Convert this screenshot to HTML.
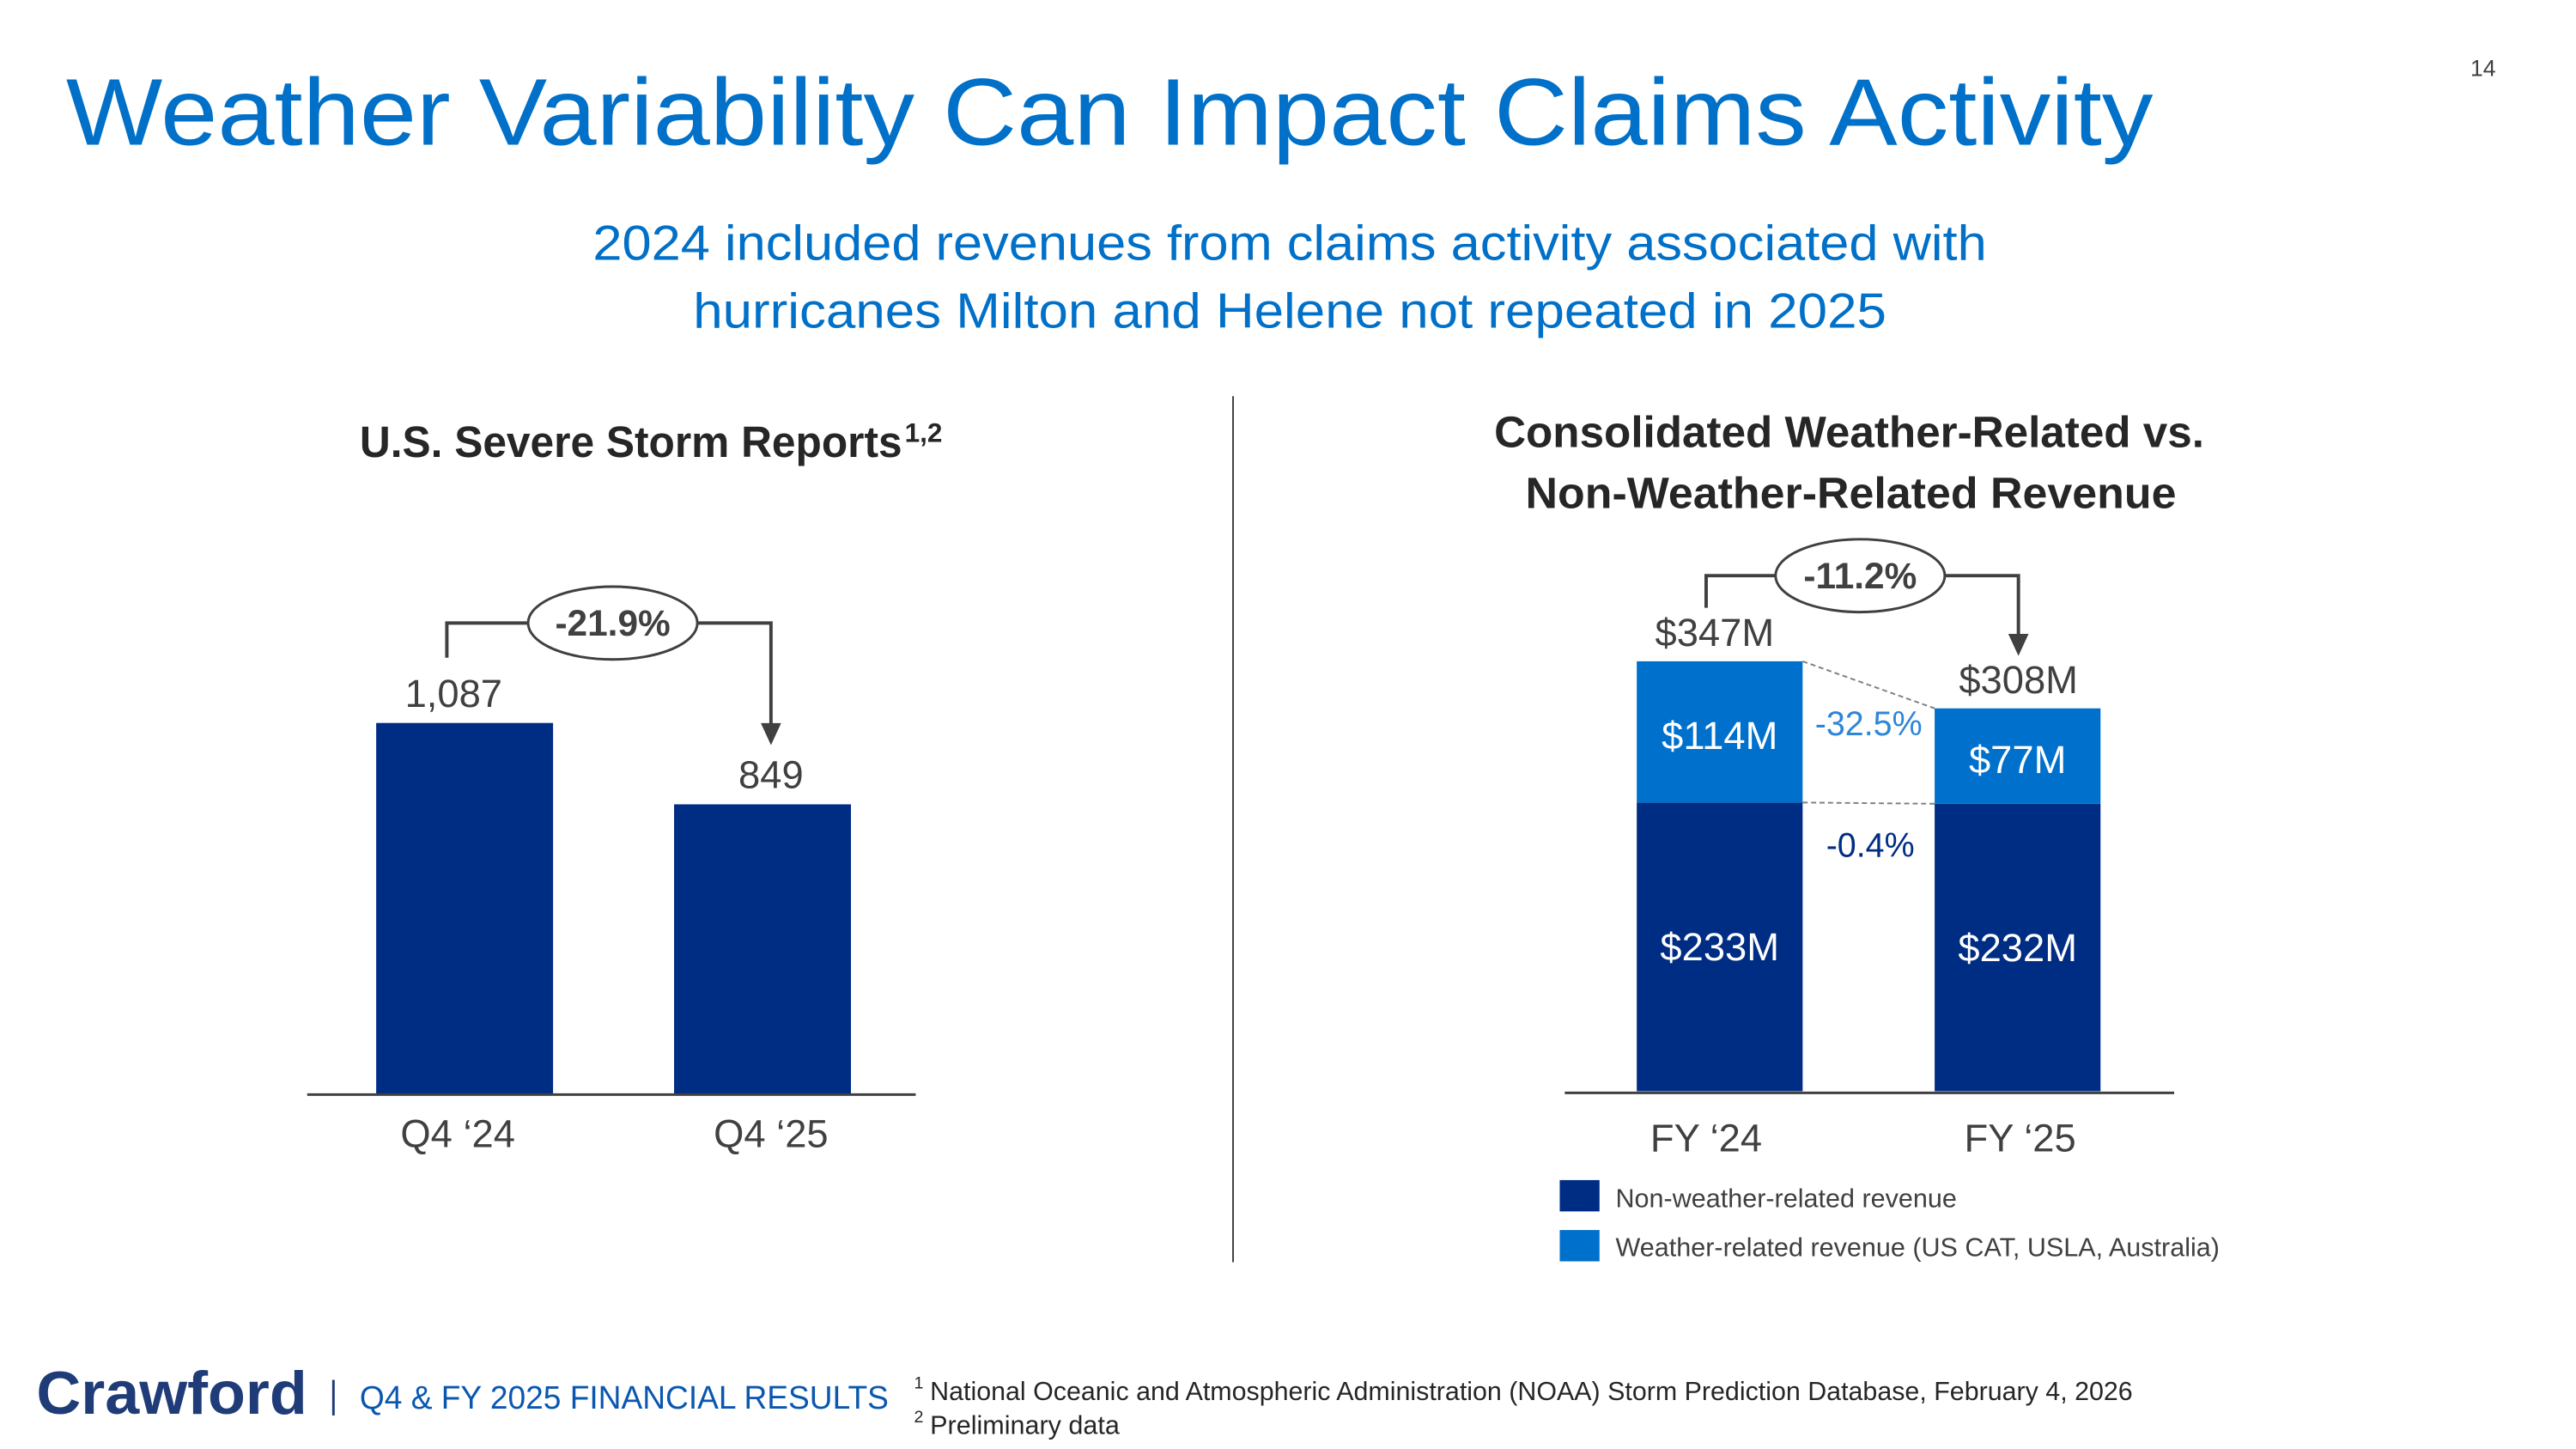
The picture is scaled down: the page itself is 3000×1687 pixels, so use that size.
<!DOCTYPE html>
<html><head><meta charset="utf-8"><style>
html,body{margin:0;padding:0;background:#fff}
svg{display:block;font-family:"Liberation Sans",sans-serif}
</style></head><body>
<svg id="slide" width="3000" height="1687" viewBox="0 0 3000 1687" xmlns="http://www.w3.org/2000/svg">
<g transform="scale(0.9856)">
<text x="2934" y="90" font-size="27" fill="#404040" text-anchor="middle">14</text>
<text x="78" y="171" font-size="112" fill="#0070c8" textLength="2466" lengthAdjust="spacingAndGlyphs">Weather Variability Can Impact Claims Activity</text>
<text x="1524" y="307" font-size="58" fill="#0070c8" text-anchor="middle" textLength="1647" lengthAdjust="spacingAndGlyphs">2024 included revenues from claims activity associated with</text>
<text x="1524" y="387" font-size="58" fill="#0070c8" text-anchor="middle" textLength="1410" lengthAdjust="spacingAndGlyphs">hurricanes Milton and Helene not repeated in 2025</text>
<line x1="1457" y1="468" x2="1457" y2="1491" stroke="#404040" stroke-width="2"/>

<text x="425" y="540" font-size="52" font-weight="bold" fill="#262626" textLength="641" lengthAdjust="spacingAndGlyphs">U.S. Severe Storm Reports</text>
<text x="1069" y="522" font-size="32" font-weight="bold" fill="#262626">1,2</text>
<g id="left-chart"></g>

<text x="2185" y="528" font-size="52" font-weight="bold" fill="#262626" text-anchor="middle" textLength="839" lengthAdjust="spacingAndGlyphs">Consolidated Weather-Related vs.</text>
<text x="2187" y="600" font-size="52" font-weight="bold" fill="#262626" text-anchor="middle" textLength="769" lengthAdjust="spacingAndGlyphs">Non-Weather-Related Revenue</text>
<g id="right-chart"></g>

<rect x="1843" y="1394" width="47" height="37" fill="#002d84"/>
<text x="1909" y="1426" font-size="31" fill="#404040">Non-weather-related revenue</text>
<rect x="1843" y="1453" width="47" height="37" fill="#0070cd"/>
<text x="1909" y="1484" font-size="31" fill="#404040">Weather-related revenue (US CAT, USLA, Australia)</text>

<text x="43" y="1670" font-size="72" font-weight="bold" fill="#1f3c78" textLength="320" lengthAdjust="spacingAndGlyphs">Crawford</text>
<line x1="394" y1="1630" x2="394" y2="1672" stroke="#1f3c78" stroke-width="3"/>
<text x="425" y="1664" font-size="39" fill="#0a57b0" textLength="625" lengthAdjust="spacingAndGlyphs">Q4 &amp; FY 2025 FINANCIAL RESULTS</text>
<text x="1080" y="1640" font-size="20" fill="#262626">1</text>
<text x="1099" y="1654" font-size="31" fill="#262626" textLength="1421" lengthAdjust="spacingAndGlyphs">National Oceanic and Atmospheric Administration (NOAA) Storm Prediction Database, February 4, 2026</text>
<text x="1080" y="1680" font-size="20" fill="#262626">2</text>
<text x="1099" y="1694" font-size="31" fill="#262626">Preliminary data</text>
</g>
</svg>
<script>
const leftCategories = ["Q4 \u201824", "Q4 \u201825"];
const leftValues = [1087, 849];
const leftLabels = ["1,087", "849"];
const leftChange = "-21.9%";

const rightCategories = ["FY \u201824", "FY \u201825"];
const nonWeatherValues = [233, 232];
const weatherValues = [114, 77];
const totalLabels = ["$347M", "$308M"];
const weatherChange = "-32.5%";
const nonWeatherChange = "-0.4%";
const totalChange = "-11.2%";

const NS = "http://www.w3.org/2000/svg";
function mk(parent, tag, attrs, text) {
  const e = document.createElementNS(NS, tag);
  for (const k in attrs) e.setAttribute(k, attrs[k]);
  if (text !== undefined) e.textContent = text;
  parent.appendChild(e);
  return e;
}
function fmt(v){ return "$" + v + "M"; }

// Left chart
const L = document.getElementById("left-chart");
const lBase = 1293, lScale = 439 / 1087, lCenters = [549, 901], lW = 209;
const ly = v => lBase - v * lScale;
const lTops = [];
leftValues.forEach((v, i) => {
  const r = mk(L, "rect", {x: lCenters[i] - lW/2, y: ly(v), width: lW, height: lBase - ly(v), fill: "#002d84"});
  
  
  lTops.push(ly(v));
  const t = mk(L, "text", {x: lCenters[i] - (i===0?13:-10), y: ly(v) - 19, "font-size": 46, fill: "#404040", "text-anchor": "middle"}, leftLabels[i]);
  
  
  const c = mk(L, "text", {x: lCenters[i] + (i===0?-8:10), y: 1355, "font-size": 46, fill: "#404040", "text-anchor": "middle"}, leftCategories[i]);
  
  
});
const lAxis = mk(L, "line", {x1: 363, y1: lBase, x2: 1082, y2: lBase, stroke: "#404040", "stroke-width": 3});


function bracket(g, x1, x2, yTop, y1start, tipY, cx, label, name) {
  const p = mk(g, "path", {d: `M${x1} ${y1start} V${yTop} H${x2} V${tipY - 22}`, fill: "none", stroke: "#404040", "stroke-width": 4});
  
  
  const a = mk(g, "path", {d: `M${x2-12} ${tipY-26} L${x2+12} ${tipY-26} L${x2} ${tipY} Z`, fill: "#404040"});
  
  
  const e = mk(g, "ellipse", {cx: cx, cy: yTop, rx: 100, ry: 43, fill: "#fff", stroke: "#404040", "stroke-width": 3});
  
  
  const t = mk(g, "text", {x: cx, y: yTop + 15, "font-size": 43, "font-weight": "bold", fill: "#404040", "text-anchor": "middle"}, label);
  
  
}
bracket(L, 528, 911, 736, 777, lTops[1] - 70, 724, leftChange, 'storm');

// Right chart
const R = document.getElementById("right-chart");
const rBase = 1289, rScale = 341 / 233, rX = [1934, 2286], rW = 196;
const ry = v => rBase - v * rScale;
const segTops = [], totTops = [];
rightCategories.forEach((cat, i) => {
  const nTop = ry(nonWeatherValues[i]);
  const wTop = ry(nonWeatherValues[i] + weatherValues[i]);
  segTops.push(nTop); totTops.push(wTop);
  const b1 = mk(R, "rect", {x: rX[i], y: nTop, width: rW, height: rBase - nTop, fill: "#002d84"});
  
  
  const b2 = mk(R, "rect", {x: rX[i], y: wTop, width: rW, height: nTop - wTop, fill: "#0070cd"});
  
  
  const t1 = mk(R, "text", {x: rX[i] + rW/2, y: (nTop + rBase)/2 + 16, "font-size": 46, fill: "#fff", "text-anchor": "middle"}, fmt(nonWeatherValues[i]));
  
  
  const t2 = mk(R, "text", {x: rX[i] + rW/2, y: (nTop + wTop)/2 + 20, "font-size": 46, fill: "#fff", "text-anchor": "middle"}, fmt(weatherValues[i]));
  
  
  const t3 = mk(R, "text", {x: rX[i] + rW/2 - (i===0?6:-1), y: wTop - 18, "font-size": 46, fill: "#404040", "text-anchor": "middle"}, totalLabels[i]);
  
  
  const c = mk(R, "text", {x: rX[i] + rW/2 - (i===0?16:-3), y: 1360, "font-size": 46, fill: "#404040", "text-anchor": "middle"}, cat);
  
  
});
const d1 = mk(R, "line", {x1: rX[0]+rW, y1: totTops[0], x2: rX[1], y2: totTops[1], stroke: "#808080", "stroke-width": 2, "stroke-dasharray": "6 4"});


const d2 = mk(R, "line", {x1: rX[0]+rW, y1: segTops[0], x2: rX[1], y2: segTops[1], stroke: "#808080", "stroke-width": 2, "stroke-dasharray": "6 4"});


const midX = (rX[0] + rW + rX[1]) / 2;
const p1 = mk(R, "text", {x: midX, y: (totTops[0] + segTops[0])/2 + 4, "font-size": 40, fill: "#2e86d8", "text-anchor": "middle"}, weatherChange);


const p2 = mk(R, "text", {x: midX + 2, y: segTops[0] + 64, "font-size": 40, fill: "#002d84", "text-anchor": "middle"}, nonWeatherChange);


const rAxis = mk(R, "line", {x1: 1849, y1: 1291, x2: 2569, y2: 1291, stroke: "#404040", "stroke-width": 3});


bracket(R, 2016, 2385, 680, 718, totTops[1] - 62, 2198, totalChange, 'revenue');
</script>
</body></html>
